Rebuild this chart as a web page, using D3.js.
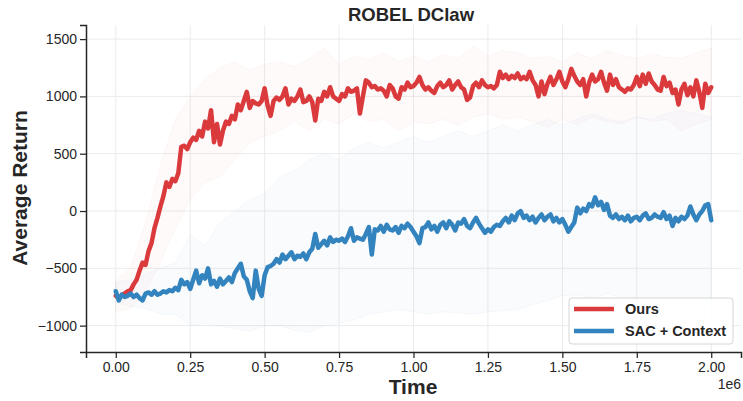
<!DOCTYPE html>
<html>
<head>
<meta charset="utf-8">
<script src="https://cdn.jsdelivr.net/npm/d3@7"></script>
<style>
  html, body { margin: 0; padding: 0; background: #ffffff; }
  svg { display: block; }
  text { font-family: "Liberation Sans", Arial, Helvetica, sans-serif; }
</style>
</head>
<body>
<svg id="chart" width="743" height="401"></svg>
<script>
// ---------- DATA ----------
const title = "ROBEL DClaw";
const xLabel = "Time";
const yLabel = "Average Return";
const xOffsetText = "1e6";
const seriesNames = ["Ours", "SAC + Context"];
const xTicks = [0, 0.25, 0.5, 0.75, 1.0, 1.25, 1.5, 1.75, 2.0];
const yTicks = [-1000, -500, 0, 500, 1000, 1500];

// steps in units of 1e6, 0.01 spacing for means
const stepsMean = d3.range(0, 201).map(i => i / 100);

const oursMean = [
 -740,-760,-735,-720,-700,-690,-640,-600,-520,-450,
 -470,-350,-280,-150,-60,40,130,250,210,280,
 260,330,560,570,540,600,640,620,700,650,
 780,720,880,600,760,580,700,780,760,830,
 800,930,880,960,1040,900,960,940,930,960,
 1070,920,830,960,990,970,1000,1070,930,980,
 960,1000,1060,950,960,1000,950,790,980,960,
 1040,1000,1080,1000,980,960,1020,1000,1070,1040,
 1050,1070,850,1000,1140,1120,1080,1090,1060,1070,
 1050,1000,1100,1070,1000,980,1080,1060,1120,1080,
 1090,1120,1170,1100,1060,1080,1050,1030,1090,1120,
 1080,1100,1140,1060,1100,1130,1080,1060,970,990,
 1090,1120,1080,1140,1100,1080,1090,1070,1100,1215,
 1160,1190,1150,1180,1160,1200,1150,1170,1150,1215,
 1140,1100,1000,1130,1020,1110,1170,1100,1150,1215,
 1130,1080,1150,1240,1180,1130,1100,1150,1000,1120,
 1190,1130,1150,1215,1120,1050,1190,1100,1150,1080,
 1060,1040,1070,1060,1100,1170,1090,1190,1110,1200,
 1130,1100,1060,1050,1170,1090,1120,1030,1060,930,
 1060,1110,1010,1080,1000,1140,1040,900,1110,1030,
 1080
];

const sacMean = [
 -700,-780,-730,-750,-740,-720,-750,-730,-760,-780,
 -720,-710,-730,-700,-730,-720,-700,-710,-690,-700,
 -670,-690,-600,-640,-620,-680,-600,-520,-630,-560,
 -590,-500,-640,-610,-660,-590,-640,-610,-580,-620,
 -540,-500,-460,-570,-600,-700,-760,-520,-680,-740,
 -560,-490,-480,-460,-420,-450,-380,-420,-390,-360,
 -420,-390,-400,-370,-420,-360,-330,-200,-320,-290,
 -260,-300,-230,-270,-250,-260,-240,-270,-220,-150,
 -260,-230,-240,-250,-200,-140,-380,-160,-170,-130,
 -180,-120,-160,-170,-140,-190,-130,-150,-110,-140,
 -180,-220,-280,-150,-140,-100,-160,-130,-180,-120,
 -100,-150,-90,-120,-170,-100,-110,-70,-130,-150,
 -100,-60,-110,-150,-190,-160,-180,-140,-120,-130,
 -90,-60,-100,-40,-80,-20,0,-60,-40,-80,
 -50,-100,-60,-30,-80,-50,-30,-90,-60,-100,
 -70,-120,-180,-140,-100,30,-20,20,0,60,
 40,120,50,80,10,60,-40,-60,-30,-70,
 -50,-80,-40,-90,-60,-50,-80,-40,-20,-70,
 -60,-30,-50,-60,-10,-70,-40,-130,-60,-90,
 -50,-70,-40,40,-30,-80,-30,0,50,60,
 -80
];

// bands at 0.05 spacing
const stepsBand = d3.range(0, 41).map(i => i / 20);
const oursUpper = [
 -600,-500,-100,400,800,1000,1150,1250,1300,1230,
 1280,1300,1260,1330,1420,1280,1350,1320,1380,1300,
 1350,1300,1370,1330,1440,1350,1400,1380,1330,1350,
 1300,1380,1330,1400,1360,1330,1370,1340,1330,1380,
 1420
];
const oursLower = [
 -880,-850,-700,-450,-150,100,250,300,450,600,
 650,700,780,700,800,760,850,780,800,700,
 780,760,800,750,820,850,800,820,780,730,
 800,750,820,780,760,820,780,800,700,760,
 800
];
const sacUpper = [
 -620,-600,-550,-500,-450,-200,-300,-100,0,100,
 150,300,350,450,500,450,550,600,550,600,
 650,600,650,700,650,700,750,700,750,800,
 750,800,850,800,780,820,800,850,880,850,
 820
];
const sacLower = [
 -800,-830,-850,-900,-900,-1000,-980,-1000,-1030,-1050,
 -1000,-1000,-1040,-1060,-1000,-980,-950,-900,-880,-860,
 -880,-900,-880,-890,-900,-880,-870,-860,-820,-780,
 -740,-730,-760,-720,-760,-780,-780,-760,-780,-790,
 -800
];

// ---------- STYLE ----------
const colors = ["#da3a3c", "#3283be"];
const W = 743, H = 401;
const margin = { left: 86, right: 2, top: 25, bottom: 49 };
const inkColor = "#262626";

const svg = d3.select("#chart");
const x = d3.scaleLinear().domain([-0.1, 2.1]).range([margin.left, W - margin.right]);
const y = d3.scaleLinear().domain([-1230, 1623]).range([H - margin.bottom, margin.top]);

// grid
const grid = svg.append("g");
grid.selectAll("line.gx").data(xTicks).enter().append("line")
  .attr("x1", d => x(d)).attr("x2", d => x(d))
  .attr("y1", y.range()[1]).attr("y2", y.range()[0])
  .attr("stroke", "#ebebeb").attr("stroke-width", 1);
grid.selectAll("line.gy").data(yTicks).enter().append("line")
  .attr("x1", x.range()[0]).attr("x2", x.range()[1])
  .attr("y1", d => y(d)).attr("y2", d => y(d))
  .attr("stroke", "#ebebeb").attr("stroke-width", 1);

// bands
function band(upper, lower, color, op) {
  const data = stepsBand.map((s, i) => ({ s, u: upper[i], l: lower[i] }));
  const area = d3.area().x(d => x(d.s)).y0(d => y(d.l)).y1(d => y(d.u));
  svg.append("path").datum(data).attr("d", area)
    .attr("fill", color).attr("fill-opacity", op)
    .attr("stroke", color).attr("stroke-opacity", 0.04).attr("stroke-width", 1);
}
band(sacUpper, sacLower, colors[1], 0.03);
band(oursUpper, oursLower, colors[0], 0.022);

// lines
const line = d3.line().x((d, i) => x(stepsMean[i])).y(d => y(d));
[oursMean, sacMean].forEach((arr, k) => {
  svg.append("path").datum(arr).attr("d", line)
    .attr("fill", "none").attr("stroke", colors[k])
    .attr("stroke-width", 4.5).attr("stroke-linejoin", "round").attr("stroke-linecap", "round");
});

// axes
const xAxis = d3.axisBottom(x).tickValues(xTicks).tickFormat(d3.format(".2f")).tickSize(6).tickPadding(4);
const yAxis = d3.axisLeft(y).tickValues(yTicks).tickFormat(d => d < 0 ? "\u2212" + Math.abs(d) : d).tickSize(6).tickPadding(3);

const gx = svg.append("g").attr("transform", `translate(0,${H - margin.bottom})`).call(xAxis);
const gy = svg.append("g").attr("transform", `translate(${margin.left},0)`).call(yAxis);
[gx, gy].forEach(g => {
  g.select(".domain").attr("stroke", inkColor).attr("stroke-width", 1.5);
  g.selectAll(".tick line").attr("stroke", inkColor).attr("stroke-width", 1.25);
  g.selectAll(".tick text").attr("fill", inkColor)
    .style("font-family", "'Liberation Sans', Arial, sans-serif").style("font-size", "14px");
});

// title & labels
svg.append("text").attr("x", 411).attr("y", 21).attr("text-anchor", "middle")
  .style("font-size", "18.5px").style("font-weight", "bold").attr("fill", inkColor).text(title);
svg.append("text").attr("x", 413).attr("y", 394).attr("text-anchor", "middle")
  .style("font-size", "21px").style("font-weight", "bold").attr("fill", inkColor).text(xLabel);
svg.append("text").attr("transform", `translate(27,188) rotate(-90)`).attr("text-anchor", "middle")
  .style("font-size", "21px").style("font-weight", "bold").attr("fill", inkColor).text(yLabel);
svg.append("text").attr("x", 741).attr("y", 389).attr("text-anchor", "end")
  .style("font-size", "14px").attr("fill", inkColor).text(xOffsetText);

// legend
const lg = svg.append("g");
lg.append("rect").attr("x", 569).attr("y", 298).attr("width", 164).attr("height", 46)
  .attr("rx", 3).attr("fill", "#ffffff").attr("fill-opacity", 0.85)
  .attr("stroke", "#d6d6d6").attr("stroke-width", 1);
seriesNames.forEach((name, i) => {
  const yy = 309 + i * 22;
  lg.append("line").attr("x1", 574).attr("x2", 614).attr("y1", yy).attr("y2", yy)
    .attr("stroke", colors[i]).attr("stroke-width", 4.5);
  lg.append("text").attr("x", 625).attr("y", yy + 5)
    .style("font-size", "14.5px").style("font-weight", "bold").attr("fill", inkColor).text(name);
});
</script>
</body>
</html>
